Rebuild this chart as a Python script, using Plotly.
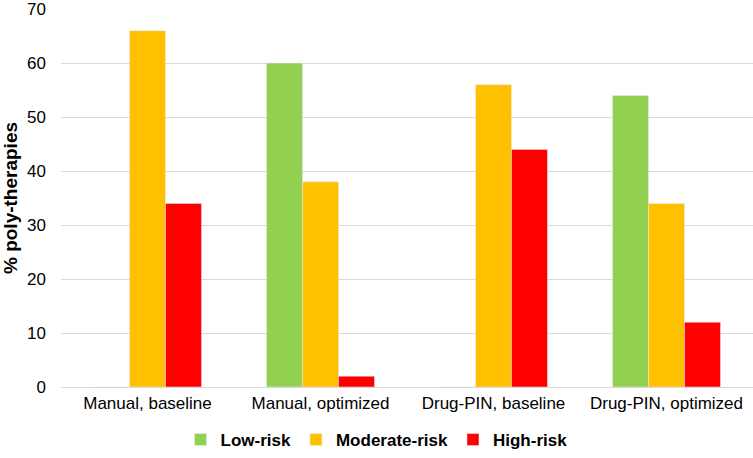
import plotly.graph_objects as go

categories = ["Manual, baseline", "Manual, optimized", "Drug-PIN, baseline", "Drug-PIN, optimized"]
low_risk = [0, 60, 0, 54]
moderate_risk = [66, 38, 56, 34]
high_risk = [34, 2, 44, 12]
y_ticks = [0, 10, 20, 30, 40, 50, 60, 70]

FONT = "Liberation Sans, Arial, sans-serif"

fig = go.Figure()
fig.add_trace(go.Bar(name="<b>Low-risk</b>", x=categories, y=low_risk, marker_color="#92D050"))
fig.add_trace(go.Bar(name="<b>Moderate-risk</b>", x=categories, y=moderate_risk, marker_color="#FFC000"))
fig.add_trace(go.Bar(name="<b>High-risk</b>", x=categories, y=high_risk, marker_color="#FF0000"))

fig.update_layout(
    width=753, height=458,
    margin=dict(l=61, r=0, t=9, b=71),
    plot_bgcolor="white", paper_bgcolor="white",
    barmode="group", bargap=0.376, bargroupgap=0,
    font=dict(family=FONT, size=17, color="#000000"),
    legend=dict(orientation="h", xref="container", x=0.5, xanchor="center",
                yref="container", y=0.0, yanchor="bottom",
                font=dict(size=17), tracegroupgap=0, itemwidth=30),
    xaxis=dict(showline=False, ticks="", tickfont=dict(size=17), automargin=False,
               ticklabelstandoff=4),
    yaxis=dict(range=[0, 70.02], tickvals=y_ticks, showgrid=True, gridcolor="#D9D9D9",
               gridwidth=1, zeroline=True, zerolinecolor="#D9D9D9", zerolinewidth=1,
               ticks="", ticklabelstandoff=14, tickfont=dict(size=17), automargin=False,
               title=dict(text="<b>% poly-therapies</b>", font=dict(size=19), standoff=6)),
)

fig.write_html("out.html", config={"displayModeBar": False},
               post_script="document.body.style.margin='0';")
